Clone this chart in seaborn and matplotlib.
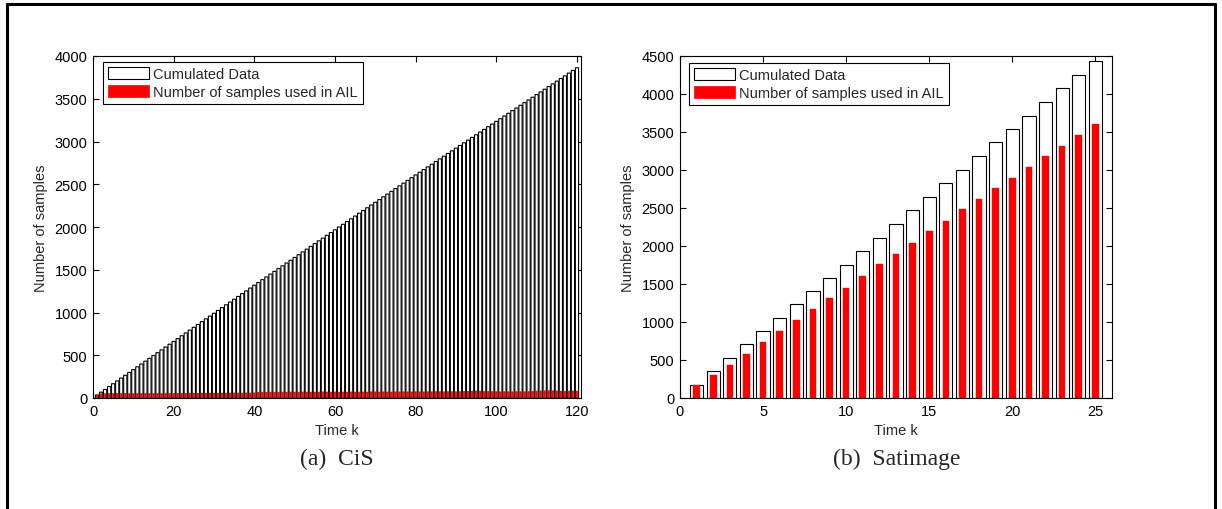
import matplotlib
matplotlib.use("Agg")
import matplotlib.pyplot as plt
import seaborn as sns
import pandas as pd
from matplotlib.patches import Patch
from matplotlib.lines import Line2D

# ---------------- data ----------------
cis_k = list(range(1, 121))
cis_cumulated = [
    35, 68, 100, 134, 167, 200, 233, 266, 299, 332,
    365, 398, 431, 464, 497, 530, 563, 596, 629, 662,
    695, 728, 761, 794, 827, 860, 893, 926, 958, 991,
    1024, 1057, 1090, 1122, 1155, 1188, 1221, 1253, 1286, 1319,
    1351, 1384, 1416, 1449, 1481, 1514, 1546, 1579, 1611, 1644,
    1676, 1709, 1741, 1773, 1806, 1838, 1870, 1903, 1935, 1967,
    2000, 2032, 2064, 2096, 2128, 2161, 2193, 2225, 2257, 2289,
    2321, 2353, 2385, 2417, 2449, 2481, 2513, 2545, 2577, 2609,
    2640, 2672, 2703, 2734, 2766, 2797, 2828, 2860, 2891, 2922,
    2954, 2985, 3016, 3048, 3079, 3110, 3142, 3173, 3204, 3236,
    3267, 3298, 3330, 3361, 3392, 3424, 3455, 3486, 3518, 3549,
    3580, 3612, 3643, 3674, 3706, 3737, 3768, 3800, 3831, 3862,
]
cis_used = [
    30, 48, 50, 52, 52, 53, 52, 54, 53, 52,
    54, 53, 55, 54, 53, 55, 54, 56, 55, 54,
    55, 56, 55, 57, 56, 55, 57, 56, 58, 57,
    56, 58, 57, 58, 59, 58, 57, 59, 58, 60,
    66, 68, 67, 69, 68, 67, 69, 68, 70, 69,
    68, 70, 69, 68, 70, 69, 71, 70, 69, 71,
    68, 70, 69, 71, 70, 69, 71, 70, 72, 71,
    70, 72, 71, 70, 72, 71, 73, 72, 71, 73,
    72, 71, 73, 72, 74, 73, 72, 74, 73, 72,
    74, 76, 78, 80, 82, 80, 78, 76, 74, 73,
    72, 74, 73, 72, 75, 74, 73, 76, 78, 80,
    82, 84, 86, 84, 82, 80, 78, 80, 82, 80,
]

sat_k = list(range(1, 26))
sat_cumulated = [177, 354, 524, 704, 876, 1053, 1233, 1405, 1580, 1755,
                 1935, 2110, 2290, 2470, 2650, 2824, 3004, 3183, 3362, 3542,
                 3717, 3896, 4080, 4255, 4429]
sat_used = [165, 304, 440, 585, 731, 876, 1021, 1176, 1310, 1450,
            1600, 1760, 1895, 2040, 2194, 2335, 2483, 2614, 2758, 2899,
            3043, 3183, 3319, 3458, 3602]

series_labels = ["Cumulated Data", "Number of samples used in AIL"]
x_label = "Time k"
y_label = "Number of samples"
captions = ["(a)  CiS", "(b)  Satimage"]

# ---------------- style ----------------
sns.set_style("ticks")
plt.rcParams["font.family"] = ["Liberation Sans", "DejaVu Sans"]
plt.rcParams["axes.edgecolor"] = "black"
plt.rcParams["axes.linewidth"] = 0.8

W, H = 1222, 510
fig = plt.figure(figsize=(W / 100, H / 100), dpi=100)
fig.patch.set_facecolor("white")

ax1 = fig.add_axes([93 / W, 1 - 399 / H, 488 / W, 342 / H])
ax2 = fig.add_axes([680 / W, 1 - 399 / H, 432 / W, 342 / H])


def draw(ax, k, cum, used, xlim, ylim, xticks, yticks, anchor, red_lw, snap):
    df = pd.DataFrame({"k": k, "cum": cum, "used": used})
    sns.barplot(data=df, x="k", y="cum", native_scale=True, width=0.8,
                color="white", edgecolor="black", linewidth=0.8,
                saturation=1, errorbar=None, ax=ax, snap=snap)
    sns.barplot(data=df, x="k", y="used", native_scale=True, width=0.4,
                color="#ff0000", edgecolor="#ff0000", linewidth=red_lw,
                saturation=1, errorbar=None, ax=ax, snap=snap)
    ax.set_xlim(*xlim)
    ax.set_ylim(*ylim)
    ax.set_xticks(xticks)
    ax.set_yticks(yticks)
    ax.set_xticklabels([str(t) for t in xticks])
    ax.set_yticklabels([str(t) for t in yticks])
    ax.tick_params(direction="in", top=True, right=True, length=4,
                   width=0.8, labelsize=10.5, pad=4, colors="black")
    for s in ax.spines.values():
        s.set_visible(True)
        s.set_color("black")
        s.set_linewidth(0.8)
    ax.set_xlabel(x_label, fontsize=10.5, labelpad=4)
    ax.set_ylabel(y_label, fontsize=10.5, labelpad=5)
    handles = [
        Patch(facecolor="white", edgecolor="black", linewidth=0.8,
              label=series_labels[0]),
        Patch(facecolor="#ff0000", edgecolor="#ff0000", linewidth=0.5,
              label=series_labels[1]),
    ]
    leg = ax.legend(handles=handles, loc="upper left", bbox_to_anchor=anchor,
                    borderaxespad=0, fancybox=False, framealpha=1,
                    edgecolor="black", fontsize=10.5, handlelength=2.8,
                    handleheight=0.9, handletextpad=0.3, labelspacing=0.25,
                    borderpad=0.35)
    leg.get_frame().set_linewidth(0.8)


draw(ax1, cis_k, cis_cumulated, cis_used, (0, 121), (0, 4000),
     list(range(0, 121, 20)), list(range(0, 4001, 500)), (0.02, 0.982), 0.5, False)
draw(ax2, sat_k, sat_cumulated, sat_used, (0, 26), (0, 4500),
     list(range(0, 26, 5)), list(range(0, 4501, 500)), (0.021, 0.98), 0.3, None)

fig.text(337 / W, 1 - 459 / H, captions[0], ha="center", va="center",
         fontfamily="Liberation Serif", fontsize=17)
fig.text(897 / W, 1 - 459 / H, captions[1], ha="center", va="center",
         fontfamily="Liberation Serif", fontsize=17)

# outer page frame
lw = 2.2
fig.add_artist(Line2D([7 / W, 7 / W], [0, 1 - 4.5 / H], transform=fig.transFigure, color="black", lw=lw))
fig.add_artist(Line2D([1215 / W, 1215 / W], [0, 1 - 4.5 / H], transform=fig.transFigure, color="black", lw=lw))
fig.add_artist(Line2D([7 / W, 1215 / W], [1 - 4.5 / H, 1 - 4.5 / H], transform=fig.transFigure, color="black", lw=lw))

fig.savefig("out.png", dpi=100, facecolor="white")
